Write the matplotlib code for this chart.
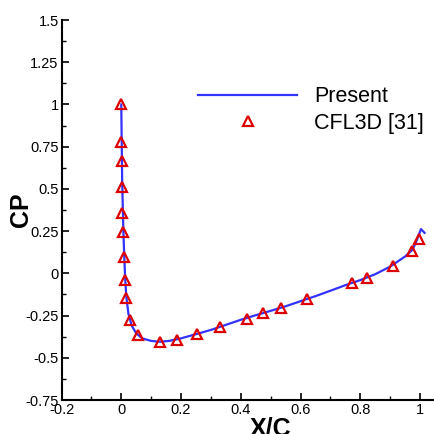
import matplotlib
matplotlib.use("Agg")
import matplotlib.pyplot as plt
from matplotlib.ticker import MultipleLocator, FixedLocator

plt.rcParams['font.family'] = ['Liberation Sans', 'DejaVu Sans']

# Present computation: surface pressure coefficient along the chord
present_x = [0.0, 0.001, 0.002, 0.003, 0.005, 0.007, 0.010, 0.013, 0.017, 0.024,
             0.035, 0.05, 0.07, 0.10, 0.13, 0.16, 0.20, 0.25, 0.30, 0.35, 0.40,
             0.45, 0.50, 0.55, 0.60, 0.65, 0.70, 0.75, 0.80, 0.85, 0.90, 0.95,
             0.975, 0.99, 1.003, 1.015]
present_cp = [1.0, 0.85, 0.70, 0.55, 0.40, 0.25, 0.10, -0.03, -0.14, -0.24,
              -0.31, -0.355, -0.385, -0.40, -0.405, -0.40, -0.385, -0.36, -0.335,
              -0.305, -0.275, -0.248, -0.222, -0.195, -0.165, -0.135, -0.103,
              -0.07, -0.04, -0.005, 0.04, 0.10, 0.14, 0.20, 0.262, 0.24]

# CFL3D [31] reference values
cfl3d_x = [0.0, 0.0, 0.003, 0.003, 0.003, 0.006, 0.009, 0.013, 0.017, 0.03,
           0.055, 0.128, 0.185, 0.254, 0.332, 0.422, 0.475, 0.534, 0.623,
           0.771, 0.824, 0.908, 0.973, 0.998]
cfl3d_cp = [1.004, 0.779, 0.665, 0.513, 0.355, 0.246, 0.098, -0.040, -0.148,
            -0.277, -0.365, -0.405, -0.395, -0.359, -0.316, -0.270, -0.237,
            -0.207, -0.152, -0.059, -0.030, 0.045, 0.132, 0.201]

x_ticks = [-0.2, 0, 0.2, 0.4, 0.6, 0.8, 1]
x_tick_labels = ['-0.2', '0', '0.2', '0.4', '0.6', '0.8', '1']
y_ticks = [-0.75, -0.5, -0.25, 0, 0.25, 0.5, 0.75, 1, 1.25, 1.5]
y_tick_labels = ['-0.75', '-0.5', '-0.25', '0', '0.25', '0.5', '0.75', '1', '1.25', '1.5']

fig = plt.figure(figsize=(4.35, 4.34), dpi=100)
ax = fig.add_axes([0.1414, 0.0783, 0.8586, 0.8756])

ax.plot(present_x, present_cp, color='#3333ff', lw=1.6, label='Present', zorder=2)
ax.plot(cfl3d_x, cfl3d_cp, linestyle='none', marker='^', ms=7.5,
        markerfacecolor='none', markeredgecolor='#dd0000', mew=1.6,
        label='CFL3D [31]', zorder=3)

ax.set_xlim(-0.2, 1.05)
ax.set_ylim(-0.75, 1.5)

ax.xaxis.set_major_locator(FixedLocator(x_ticks))
ax.set_xticklabels(x_tick_labels)
ax.yaxis.set_major_locator(FixedLocator(y_ticks))
ax.set_yticklabels(y_tick_labels)
ax.xaxis.set_minor_locator(MultipleLocator(0.1))
ax.yaxis.set_minor_locator(MultipleLocator(0.125))

for side in ['top', 'right']:
    ax.spines[side].set_visible(False)
for side in ['left', 'bottom']:
    ax.spines[side].set_linewidth(1.5)

ax.tick_params(which='major', direction='in', length=5, width=1.2,
               labelsize=10.5, pad=2)
ax.tick_params(which='minor', direction='in', length=3, width=1.0)

ax.set_xlabel('X/C', fontsize=18, fontweight='bold')
ax.set_ylabel('CP', fontsize=18, fontweight='bold')
ax.xaxis.set_label_coords(0.561, -0.044)
ax.yaxis.set_label_coords(-0.076, 0.5)

leg = ax.legend(loc='upper left', bbox_to_anchor=(0.337, 0.854), frameon=False,
                fontsize=15.5, handlelength=4.6, handletextpad=0.8,
                labelspacing=0.25, borderpad=0)

fig.savefig('out.png', dpi=100)
